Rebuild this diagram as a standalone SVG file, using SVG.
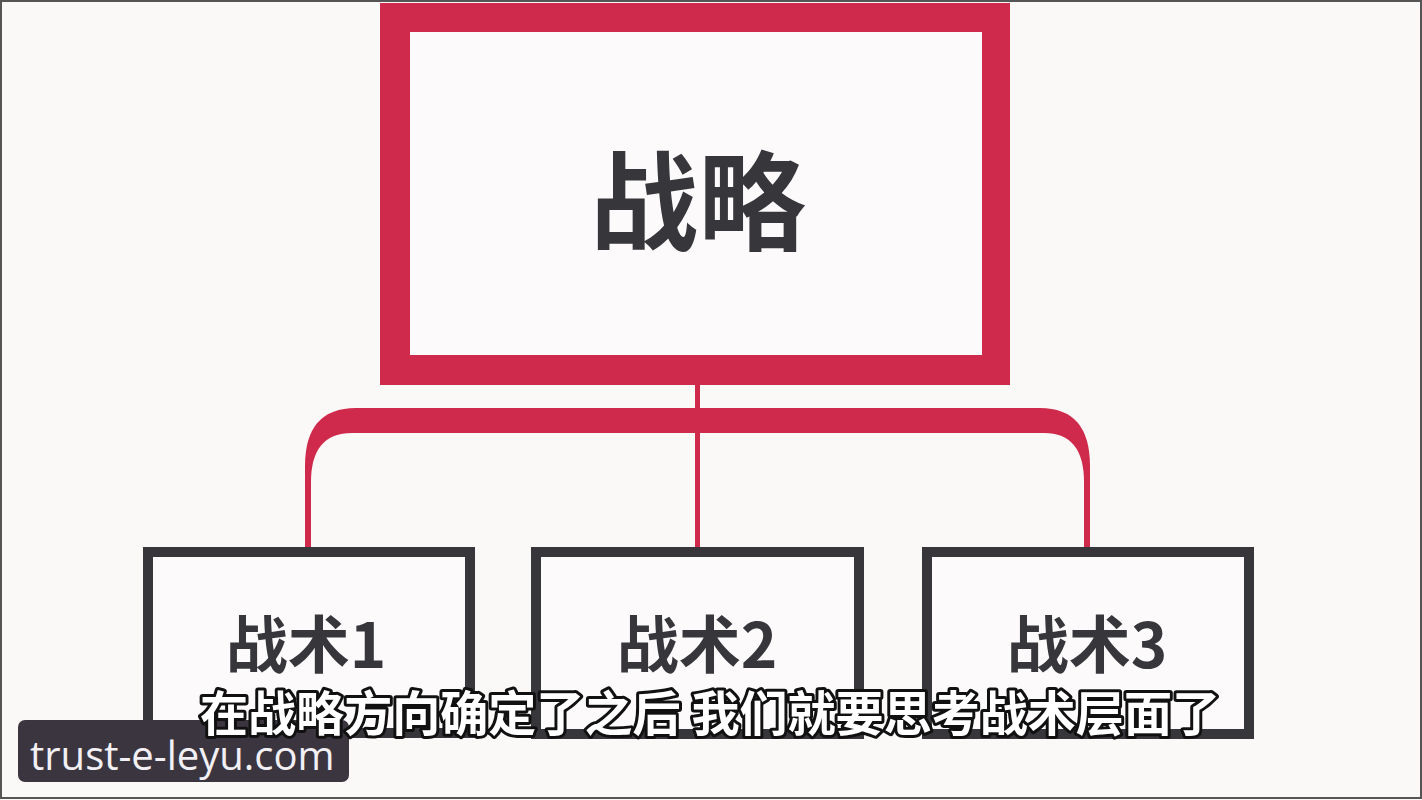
<svg xmlns="http://www.w3.org/2000/svg" width="1422" height="800" viewBox="0 0 1422 800">
<style>
.red{fill:#cf2a4c}
.box{fill:#fcfafa;stroke:#36363b;stroke-width:10}
.lbl{font-family:"Noto Sans CJK SC","Liberation Sans",sans-serif;font-weight:700;fill:#36363b;text-anchor:middle}
.sub{font-family:"Noto Sans CJK SC",sans-serif;font-weight:700;font-size:48px;fill:#ffffff;stroke:#111;stroke-width:6;stroke-linejoin:round;paint-order:stroke;text-anchor:middle}
</style>
<rect x="0" y="0" width="1422" height="800" fill="#fbf9f8"/>
<rect x="1" y="1" width="1420" height="797" fill="none" stroke="#555" stroke-width="2"/>
<g id="connectors">
<rect class="red" x="695" y="380" width="5" height="170"/>
<path class="red" d="M305 550 L305 466 Q305 408 356 408 L1040 408 Q1090 408 1090 466 L1090 550 L1084 550 L1084 482 Q1084 433 1044 433 L352 433 Q311 433 311 482 L311 550 Z"/>
</g>
<g id="strategy">
<path class="red" fill-rule="evenodd" d="M380 3 H1010 V385 H380 Z M410 32 V355 H982 V32 Z"/>
<rect x="410" y="32" width="572" height="323" fill="#fcfafa"/>
<text class="lbl" x="698" y="242" font-size="108">战略</text>
</g>
<g id="tactic1">
<rect class="box" x="148" y="552" width="322" height="181"/>
<text class="lbl" x="306" y="668" font-size="62">战术1</text>
</g>
<g id="tactic2">
<rect class="box" x="536" y="552" width="323" height="182"/>
<text class="lbl" x="697" y="668" font-size="62">战术2</text>
</g>
<g id="tactic3">
<rect class="box" x="927" y="552" width="322" height="182"/>
<text class="lbl" x="1087" y="668" font-size="62">战术3</text>
</g>
<g id="watermark">
<rect x="18" y="720" width="331" height="62" rx="7" fill="#3b3540"/>
<text x="30" y="770" font-family="'Open Sans','Noto Sans',sans-serif" font-size="40" fill="#f2f0f4">trust-e-leyu.com</text>
</g>
<g id="subtitle">
<text class="sub" x="710" y="731" textLength="1020" lengthAdjust="spacingAndGlyphs">在战略方向确定了之后 我们就要思考战术层面了</text>
</g>
</svg>
